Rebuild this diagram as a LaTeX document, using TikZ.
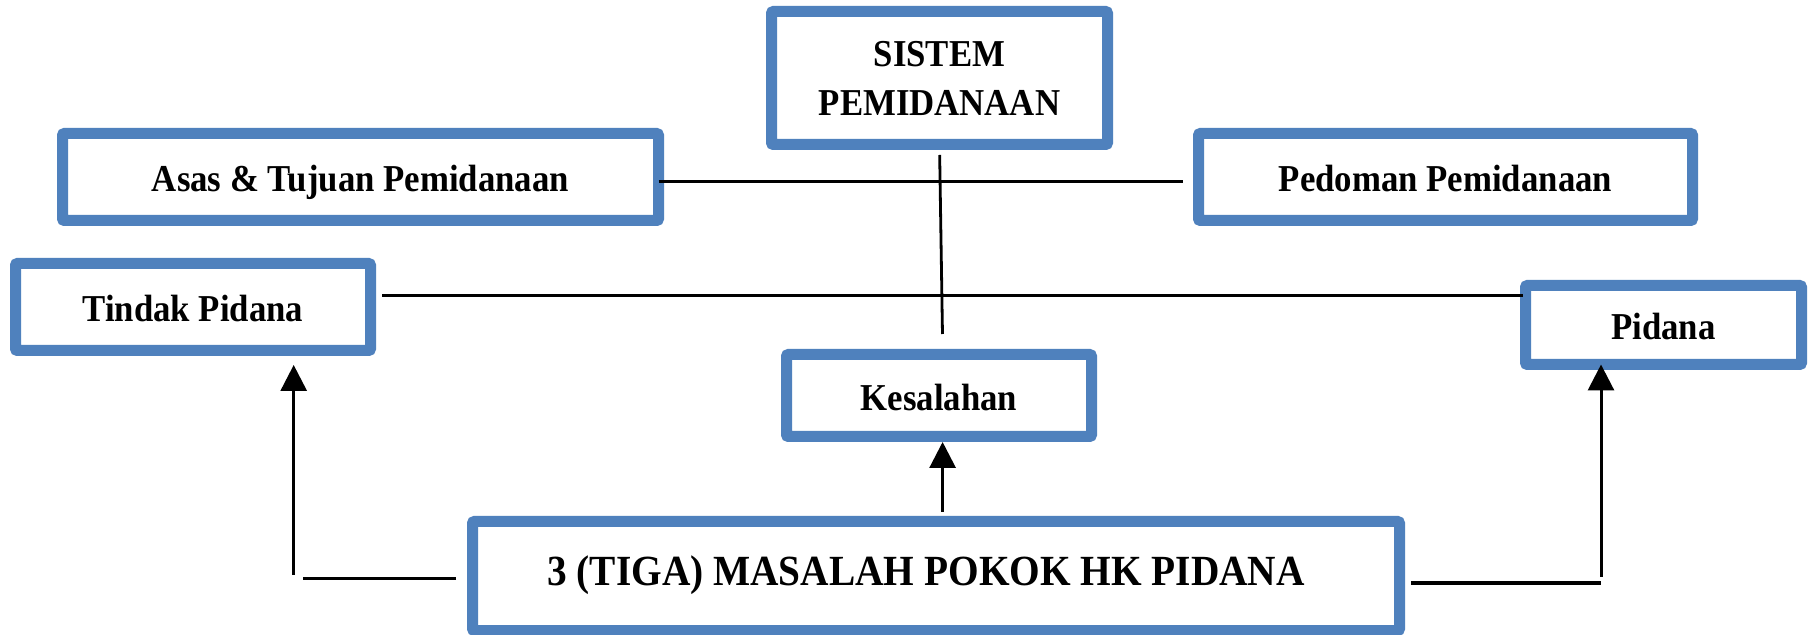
\documentclass[tikz,border=0pt]{standalone}
\usepackage{fontspec}
\setmainfont{Liberation Serif}[FakeStretch=0.915]
\usetikzlibrary{arrows.meta}
\definecolor{boxblue}{HTML}{4F81BD}
\begin{document}
\begin{tikzpicture}[x=0.5pt,y=-0.5pt,
  blbox/.style={draw=boxblue, line width=5.5pt, rounded corners=1pt, fill=white,
    inner sep=0pt, outer sep=0pt, align=center, text height=15pt, text depth=0pt,
    font=\bfseries\fontsize{19pt}{24.5pt}\selectfont},
  conn/.style={line width=1.5pt, black},
  arr/.style={conn, -{Triangle[length=13pt,width=13pt]}}]
\useasboundingbox (0,0) rectangle (1809,635);
\fill[white] (0,0) rectangle (1809,635);
% boxes
\node[blbox, minimum width=298pt, minimum height=43.5pt] (asas) at (360.5,177) {Asas \& Tujuan Pemidanaan};
\node[blbox, minimum width=177.5pt, minimum height=43.5pt] (tindak) at (193,307) {Tindak Pidana};
\node[blbox, minimum width=168pt, minimum height=66.5pt, text height=, text depth=] (sistem) at (939.5,78) {SISTEM\\PEMIDANAAN};
\node[blbox, minimum width=247pt, minimum height=43.5pt] (pedoman) at (1445.5,177) {Pedoman Pemidanaan};
\node[blbox, minimum width=138pt, minimum height=39.5pt] (pidana) at (1663.5,325) {Pidana};
\node[blbox, minimum width=152.5pt, minimum height=41pt] (kesalahan) at (939,395.5) {Kesalahan};
\node[blbox, minimum width=463.5pt, minimum height=54.5pt, text height=9pt,
  font=\bfseries\fontsize{21.5pt}{26pt}\selectfont] (main) at (936,576) {\hspace*{-10pt}3 (TIGA) MASALAH POKOK HK PIDANA};
% connectors
\draw[conn, shorten >=7.75pt] ([yshift=-2.5pt]asas.east) -- ([yshift=-2.5pt]pedoman.west);
\coordinate (t1) at ([yshift=5.5pt]tindak.east);
\draw[conn, shorten <=5.75pt, shorten >=1.25pt] (t1) -- (t1 -| pidana.west);
\draw[conn, line width=1.4pt, shorten <=5.25pt, shorten >=10.25pt] (sistem.south) -- ([xshift=1.9pt]kesalahan.north);
\draw[arr, shorten <=4.75pt, shorten >=2.75pt] ([xshift=3.3pt]main.north) -- ([xshift=1.8pt]kesalahan.south);
% left branch
\coordinate (l1) at ([yshift=-1.35pt]main.west);
\coordinate (tx) at ([xshift=50.35pt]tindak.south);
\coordinate (lc) at (tx |- l1);
\draw[conn, shorten <=8.25pt, shorten >=4.5pt] (l1) -- (lc);
\draw[arr, shorten <=1.85pt, shorten >=7.25pt] (lc) -- (tx);
% right branch
\coordinate (r1) at ([yshift=-3.5pt]main.east);
\coordinate (px) at ([xshift=-31.25pt]pidana.south);
\coordinate (rc) at (px |- r1);
\draw[conn, shorten <=5.75pt] (r1) -- (rc);
\draw[arr, shorten <=3pt] (rc) -- (px);
\end{tikzpicture}
\end{document}
